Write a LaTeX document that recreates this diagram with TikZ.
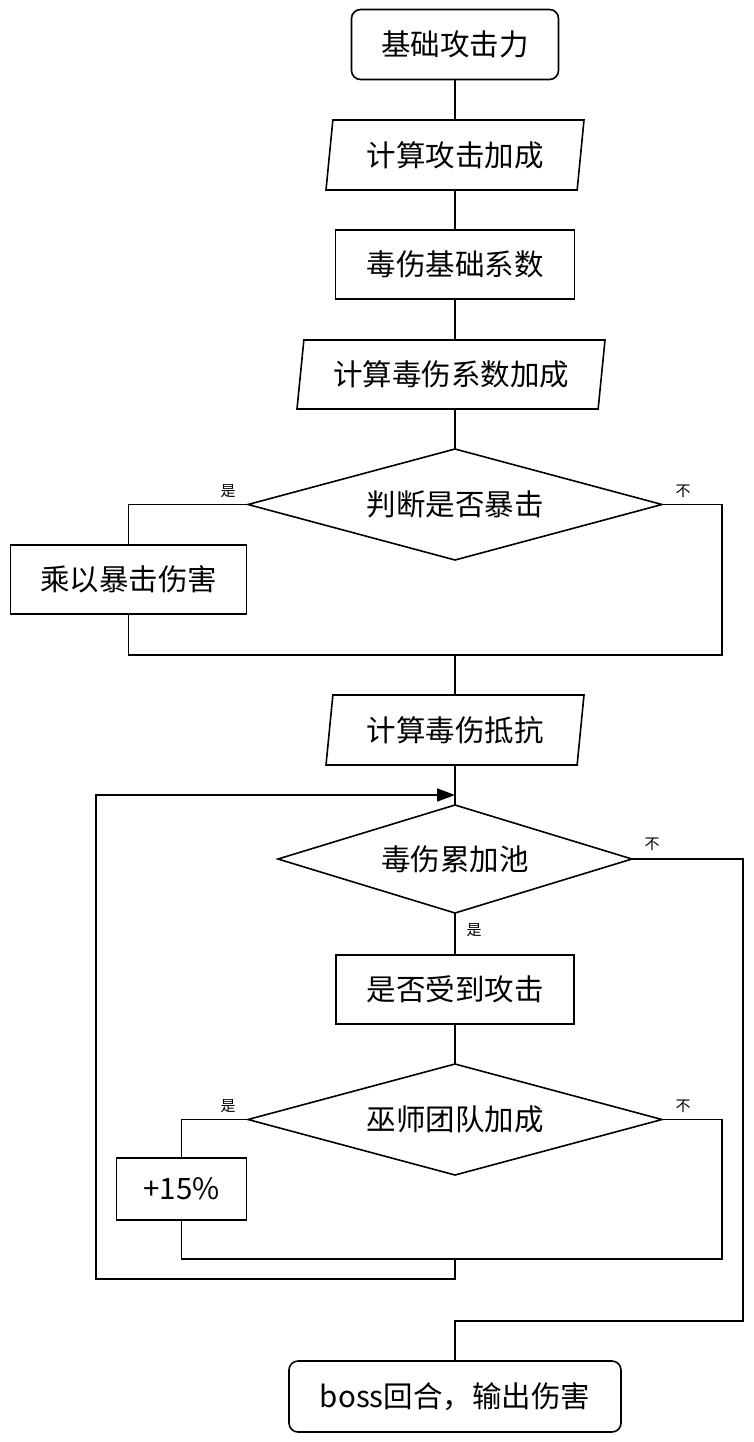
\documentclass[tikz,border=0pt]{standalone}
\usepackage{fontspec}
\setmainfont{Noto Sans CJK SC}
\usetikzlibrary{shapes.geometric,arrows.meta}
\begin{document}
\begin{tikzpicture}[x=1pt,y=-1pt, line width=1.6pt,
 base/.style={draw, inner sep=0pt, outer sep=0pt, font=\fontsize{29.5}{33}\selectfont},
 term/.style={base, rectangle, rounded corners=9pt},
 proc/.style={base, rectangle},
 io/.style={base, trapezium, trapezium left angle=76, trapezium right angle=104, trapezium stretches body},
 dec/.style={base, diamond, aspect=3.7},
 lbl/.style={font=\fontsize{15}{17}\selectfont, inner sep=0pt},
 tip/.style={-{Triangle[length=18pt,width=13pt]}}
]
\useasboundingbox (0,0) rectangle (753,1442);

\node[term, minimum width=207pt, minimum height=70pt] (n1) at (455,44.5) {基础攻击力};
\node[io, minimum width=258pt, minimum height=70pt] (n2) at (455,155) {计算攻击加成};
\node[proc, minimum width=239pt, minimum height=69pt] (n3) at (455,264.5) {毒伤基础系数};
\node[io, minimum width=308pt, minimum height=69pt] (n4) at (451,374.5) {计算毒伤系数加成};
\node[dec, minimum width=414pt, minimum height=111pt] (n5) at (455,504.5) {判断是否暴击};
\node[proc, minimum width=236pt, minimum height=69pt] (n6) at (128.5,579.5) {乘以暴击伤害};
\node[io, minimum width=258pt, minimum height=70pt] (n7) at (455,730) {计算毒伤抵抗};
\node[dec, minimum width=354pt, minimum height=108pt] (n8) at (455,859) {毒伤累加池};
\node[proc, minimum width=238pt, minimum height=69pt] (n9) at (455,989.5) {是否受到攻击};
\node[dec, minimum width=414pt, minimum height=111pt] (n10) at (455,1119.5) {巫师团队加成};
\node[proc, minimum width=130pt, minimum height=62pt] (n11) at (181.5,1189) {+15\%};
\node[term, minimum width=332pt, minimum height=71pt] (n12) at (455,1396.5) {boss回合，输出伤害};

\coordinate (m1) at (455,655);
\coordinate (r1) at (722,655);
\coordinate (m2) at (455,1259);
\coordinate (r3) at (722,1259);
\coordinate (m3) at (455,1279);
\coordinate (lp1) at (96,1279);
\coordinate (lp2) at (96,795);
\coordinate (ar) at (455,795);
\coordinate (r2) at (743,1321);

\draw (n1.south) -- (n2.north);
\draw (n2.south) -- (n3.north);
\draw (n3.south) -- (n3.south |- n4.north);
\draw (n5.north |- n4.south) -- (n5.north);
\draw (n5.west) -| (n6.north);
\draw (n6.south) |- (r1) |- (n5.east);
\draw (m1) -- (n7.north);
\draw (n7.south) -- (n8.north);
\draw (n8.south) -- (n9.north);
\draw (n9.south) -- (n10.north);
\draw (n10.west) -| (n11.north);
\draw (n11.south) |- (r3) |- (n10.east);
\draw[tip] (m2) -- (m3) -- (lp1) -- (lp2) -- (ar);
\draw (n8.east) -| (r2) -| (n12.north);

\node[lbl] (l1) at (228,491) {是};
\node[lbl] (l2) at (683,491) {不};
\node[lbl] (l3) at (652,844) {不};
\node[lbl] (l4) at (474,930) {是};
\node[lbl] (l5) at (228,1106) {是};
\node[lbl] (l6) at (683,1106) {不};
\end{tikzpicture}
\end{document}
